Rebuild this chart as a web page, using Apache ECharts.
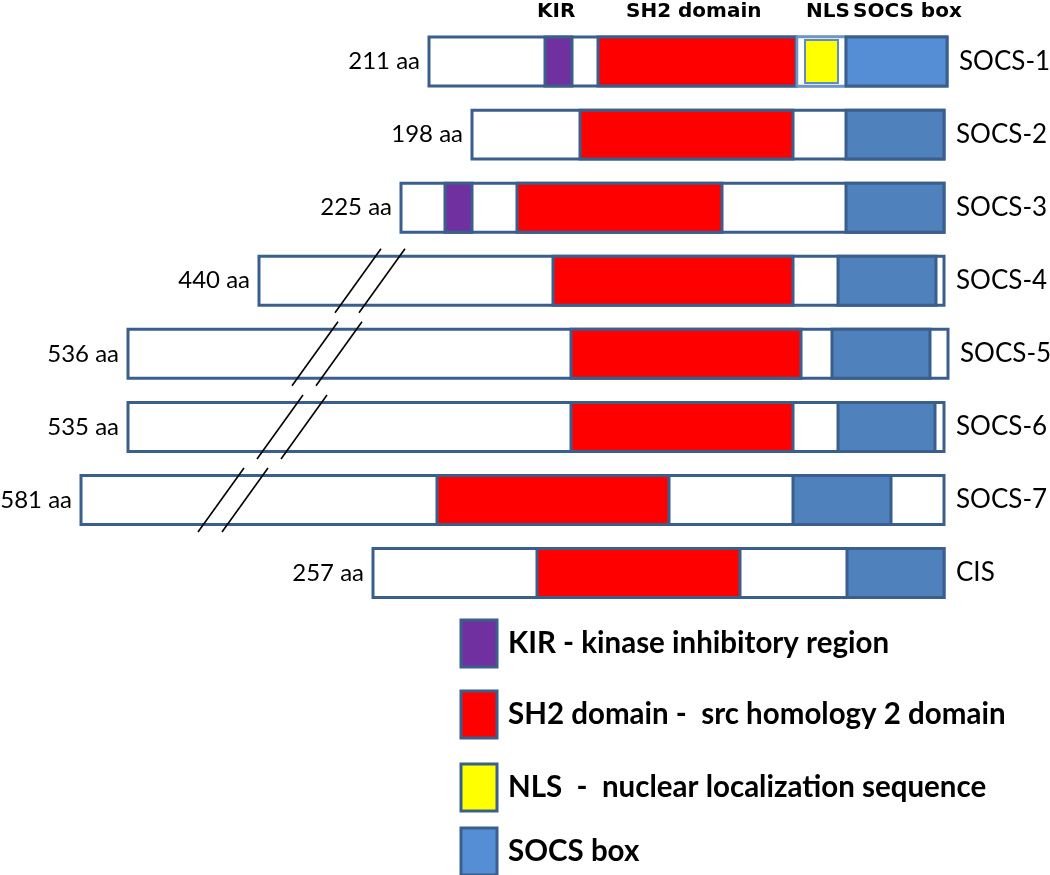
<!DOCTYPE html>
<html><head><meta charset="utf-8">
<script src="https://cdn.jsdelivr.net/npm/echarts@6/dist/echarts.min.js"></script>
<style>html,body{margin:0;padding:0;background:#fff}#c{width:1050px;height:875px}</style>
</head><body><div id="c"></div>
<script>
// ---- data (diagram position units along the protein axis) ----
const proteins = ['SOCS-1','SOCS-2','SOCS-3','SOCS-4','SOCS-5','SOCS-6','SOCS-7','CIS'];
const lengthLabels = ['211 aa','198 aa','225 aa','440 aa','536 aa','535 aa','581 aa','257 aa'];
const proteinStart = [429, 472, 401, 259, 128, 128, 81, 373];
const proteinEnd   = [947, 944, 944, 944, 948, 944, 944, 944];
const kirDomain  = [[545,572], null, [445,472], null, null, null, null, null];
const sh2Domain  = [[598,796],[580,793],[517,722],[553,793],[571,801],[571,793],[437,669],[537,740]];
const nlsDomain  = [[797,846], null, null, null, null, null, null, null];
const socsBox    = [[846,947],[846,944],[846,944],[838,936],[832,930],[838,935],[793,891],[847,944]];
const breakMarks = [null, null, null, 358, 315, 280, 221, null];
const headers = ['KIR','SH2 domain','NLS','SOCS box'];
const legendNames = ['KIR - kinase inhibitory region','SH2 domain -  src homology 2 domain','NLS  -  nuclear localization sequence','SOCS box'];

// ---- styles / layout ----
const BORDER = '#3B5F8C';
const FILL = {kir:'#7030A0', sh2:'#FF0000', nls:'#FFFF00', socs:'#4F81BD'};
const SOCS_LIGHT = '#558ED5';
const LEGEND_FILL = [FILL.kir, FILL.sh2, FILL.nls, SOCS_LIGHT];
const LEGEND_TOP = [618.5, 689.5, 762.5, 826.5];
const HEADER_X = [537, 626, 806, 853];
const BAR_RATIO = 0.67;

function toData(arr){ const out=[]; arr.forEach((d,i)=>{ if(d) out.push([d[0], d[1], i]); }); return out; }

function boxItem(fillFn){
  return function(params, api){
    const row = api.value(2);
    const p0 = api.coord([api.value(0), row]);
    const p1 = api.coord([api.value(1), row]);
    const h = api.size([0,1])[1]*BAR_RATIO;
    return {type:'rect', shape:{x:p0[0], y:p0[1]-h/2, width:p1[0]-p0[0], height:h},
      style:{fill:fillFn(row), stroke:BORDER, lineWidth:3}};
  };
}

const chart = echarts.init(document.getElementById('c'), null, {renderer:'canvas'});
chart.setOption({
  animation:false,
  backgroundColor:'#fff',
  grid:{left:0, right:0, top:25, bottom:265.4},
  xAxis:{type:'value', min:0, max:1050, show:false},
  yAxis:{type:'category', data:proteins, inverse:true, show:false},
  graphic: headers.map((t,i)=>({
    type:'text', x:HEADER_X[i], y:12,
    style:{text:t, fontFamily:'DejaVu Sans', fontWeight:'bold', fontSize:20, fill:'#000', verticalAlign:'middle'}
  })),
  legend: legendNames.map((n,i)=>({
    orient:'vertical', left:459.5, top:LEGEND_TOP[i], itemWidth:36, itemHeight:47, padding:0,
    selectedMode:false, icon:'rect',
    textStyle:{fontFamily:'Lato', fontWeight:'bold', fontSize:29.5, color:'#000', padding:[0,0,0,6]},
    data:[{name:n, itemStyle:{color:LEGEND_FILL[i], borderColor:BORDER, borderWidth:3}}]
  })),
  series:[
    {
      type:'custom', name:'protein', data: proteins.map((p,i)=>[proteinStart[i], proteinEnd[i], i]),
      encode:{x:[0,1], y:2},
      renderItem:function(params, api){
        const row = api.value(2);
        const p0 = api.coord([api.value(0), row]);
        const p1 = api.coord([api.value(1), row]);
        const h = api.size([0,1])[1]*BAR_RATIO;
        return {type:'group', children:[
          {type:'rect', shape:{x:p0[0], y:p0[1]-h/2, width:p1[0]-p0[0], height:h},
            style:{fill:'#fff', stroke:BORDER, lineWidth:3}},
          {type:'text', style:{text:lengthLabels[row], x:p0[0]-9, y:p0[1], align:'right', verticalAlign:'middle',
            fontFamily:'Lato', fontSize:24, fill:'#000'}},
          {type:'text', style:{text:proteins[row], x:p1[0]+12, y:p0[1], align:'left', verticalAlign:'middle',
            fontFamily:'Lato', fontSize:26, fill:'#000'}}
        ]};
      }
    },
    {type:'custom', name:legendNames[0], data:toData(kirDomain), encode:{x:[0,1], y:2},
      itemStyle:{color:FILL.kir}, renderItem:boxItem(()=>FILL.kir)},
    {type:'custom', name:legendNames[1], data:toData(sh2Domain), encode:{x:[0,1], y:2},
      itemStyle:{color:FILL.sh2}, renderItem:boxItem(()=>FILL.sh2)},
    {type:'custom', name:legendNames[2], data:toData(nlsDomain), encode:{x:[0,1], y:2},
      itemStyle:{color:FILL.nls},
      renderItem:function(params, api){
        const row = api.value(2);
        const p0 = api.coord([api.value(0), row]);
        const p1 = api.coord([api.value(1), row]);
        const h = api.size([0,1])[1]*BAR_RATIO;
        return {type:'group', children:[
          {type:'rect', shape:{x:p0[0], y:p0[1]-h/2, width:p1[0]-p0[0], height:h},
            style:{fill:'#fff', stroke:'#6F95C8', lineWidth:2.5}},
          {type:'rect', shape:{x:p0[0]+8, y:p0[1]-h/2+3, width:p1[0]-p0[0]-16, height:h-6},
            style:{fill:FILL.nls, stroke:'#5F8CC6', lineWidth:2}}
        ]};
      }},
    {type:'custom', name:legendNames[3], data:toData(socsBox), encode:{x:[0,1], y:2},
      itemStyle:{color:SOCS_LIGHT}, renderItem:boxItem(row=> row===0 ? SOCS_LIGHT : FILL.socs)},
    {type:'custom', name:'break', data:toData(breakMarks.map(v=> v==null?null:[v,v])), encode:{x:[0,1], y:2},
      renderItem:function(params, api){
        const row = api.value(2);
        const c = api.coord([api.value(0), row]);
        const mk = dx => ({type:'line', shape:{x1:c[0]+dx+23, y1:c[1]-32, x2:c[0]+dx-23, y2:c[1]+32},
          style:{stroke:'#000', lineWidth:1.6}});
        return {type:'group', children:[mk(0), mk(24)]};
      }}
  ]
});
</script></body></html>
